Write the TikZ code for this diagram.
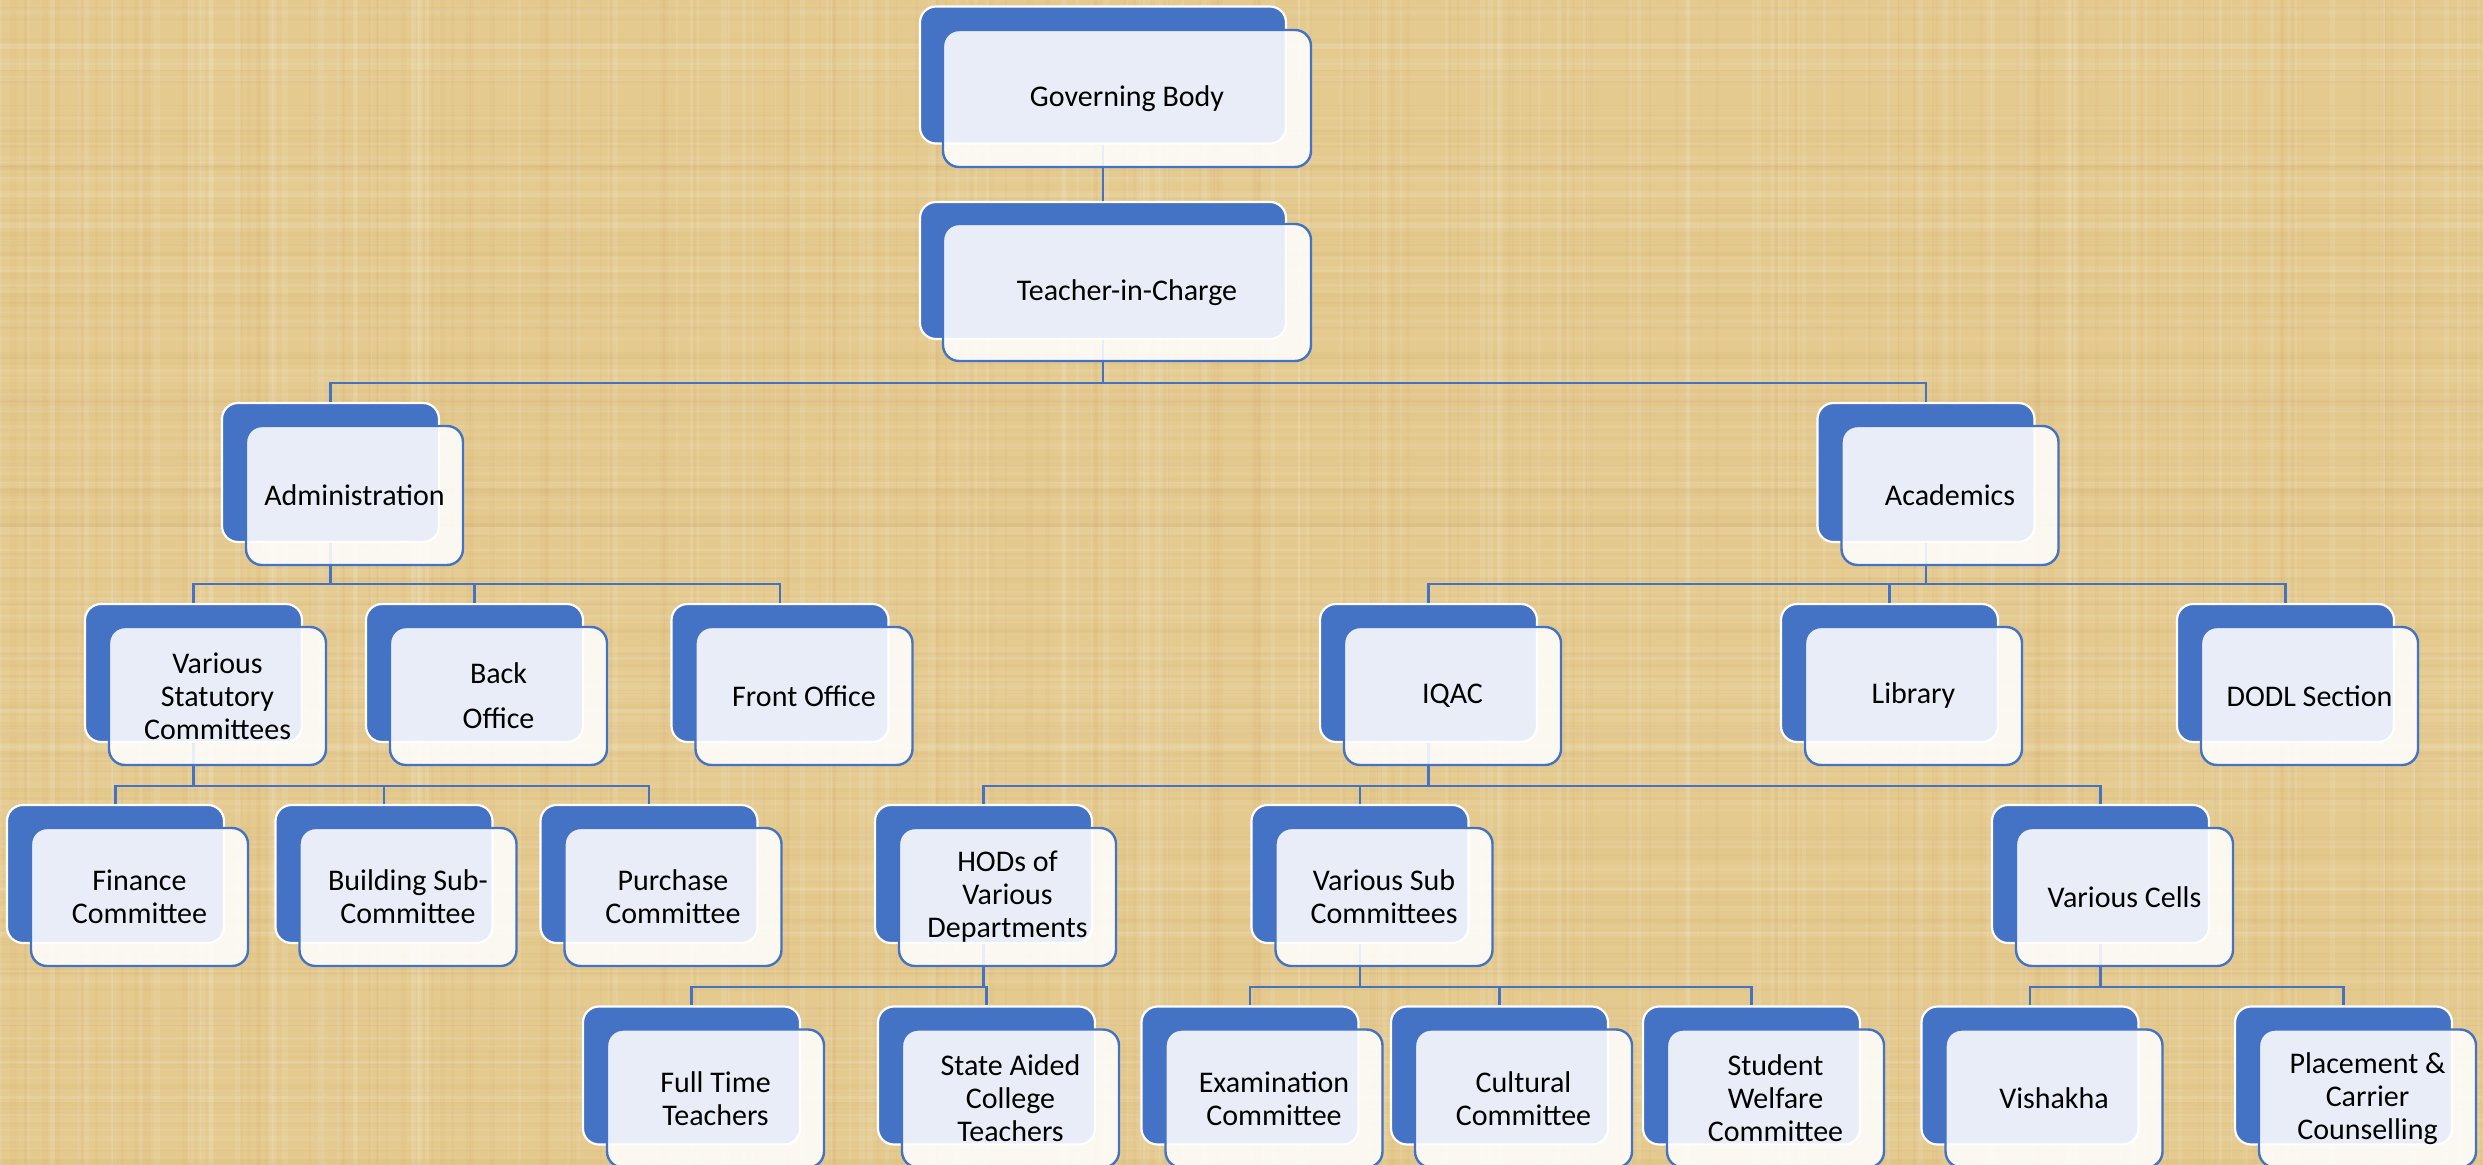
\documentclass[tikz,border=0pt]{standalone}
\usepackage{fontspec}
\setmainfont{Carlito}
\usetikzlibrary{calc}
\definecolor{bgtan}{HTML}{E4CA8E}
\definecolor{orgblue}{HTML}{4472C4}
\pgfdeclarelayer{texture}
\pgfdeclarelayer{backl}
\pgfdeclarelayer{connl}
\pgfsetlayers{texture,backl,connl,main}
\tikzset{
  backbox/.style={rectangle, rounded corners=8pt, fill=orgblue, draw=white, line width=1.1pt, inner sep=0pt},
  frontbox/.style={rectangle, rounded corners=8pt, fill=white, fill opacity=0.88, text opacity=1, draw=orgblue, draw opacity=1, line width=1.2pt, inner sep=0pt, align=center, font=\fontsize{15}{16.5}\selectfont, text=black},
  conn/.style={draw=orgblue, line width=1.3pt}
}
% name, back centre x, back centre y, width, height, text
\newcommand\orgbox[6]{%
  \begin{pgfonlayer}{backl}
  \node[backbox, minimum width=#4*0.5pt, minimum height=#5*0.5pt] (#1b) at (#2,#3) {};
  \end{pgfonlayer}
  \node[frontbox, minimum width=#4*0.5pt, minimum height=#5*0.5pt] (#1) at (#2+24,#3+23) {#6};
}
\begin{document}
\begin{tikzpicture}[x=0.5pt,y=-0.5pt]
\useasboundingbox (0,0) rectangle (2483,1165);
\begin{pgfonlayer}{texture}
\fill[bgtan] (0,0) rectangle (2483,1165);
\begin{scope}
\clip (0,0) rectangle (2483,1165);
\pgfmathsetseed{7}
\foreach \i in {1,...,160}{
  \pgfmathsetmacro\xx{rnd*2483}
  \pgfmathsetmacro\ww{1+rnd*5}
  \fill[white, opacity=0.09] (\xx,0) rectangle (\xx+\ww,1165);
  \pgfmathsetmacro\xa{rnd*2483}
  \fill[brown, opacity=0.05] (\xa,0) rectangle (\xa+\ww,1165);
  \pgfmathsetmacro\yy{rnd*1165}
  \fill[white, opacity=0.07] (0,\yy) rectangle (2483,\yy+\ww);
  \pgfmathsetmacro\ya{rnd*1165}
  \fill[brown, opacity=0.04] (0,\ya) rectangle (2483,\ya+\ww);
}
\end{scope}
\end{pgfonlayer}

% bus coordinates
\coordinate (bus1) at (0,383);
\coordinate (bus2) at (0,584);
\coordinate (bus3) at (0,786);
\coordinate (bus4) at (0,987);

% Level 0 and 1 (wide boxes)
\begin{pgfonlayer}{backl}
\node[backbox, minimum width=366*0.5pt, minimum height=137*0.5pt] (gbb) at (1103,75) {};
\node[backbox, minimum width=366*0.5pt, minimum height=137*0.5pt] (ticb) at (1103,270.5) {};
\end{pgfonlayer}
\node[frontbox, minimum width=368*0.5pt, minimum height=137*0.5pt] (gb) at (1127,98.5) {Governing Body};
\node[frontbox, minimum width=368*0.5pt, minimum height=137*0.5pt] (tic) at (1127,292.5) {Teacher-in-Charge};

% Level 2
\orgbox{adm}{330.5}{472.5}{217}{139}{Administration}
\orgbox{aca}{1926}{472.5}{217}{139}{Academics}
% Level 3
\orgbox{vsc}{193.5}{673}{217}{138}{Various\\Statutory\\Committees}
\orgbox{bo}{474.5}{673}{217}{138}{Back\\[6pt]Office}
\orgbox{fo}{780}{673}{217}{138}{Front Office}
\orgbox{iqac}{1428.5}{673}{217}{138}{IQAC}
\orgbox{lib}{1889.5}{673}{217}{138}{Library}
\orgbox{dodl}{2285.5}{673}{217}{138}{DODL Section}
% Level 4
\orgbox{fin}{115.5}{874}{217}{138}{Finance\\Committee}
\orgbox{bld}{384}{874}{217}{138}{Building Sub-\\Committee}
\orgbox{pur}{649}{874}{217}{138}{Purchase\\Committee}
\orgbox{hod}{983.5}{874}{217}{138}{HODs of\\Various\\Departments}
\orgbox{vsub}{1360}{874}{217}{138}{Various Sub\\Committees}
\orgbox{cell}{2100.5}{874}{217}{138}{Various Cells}
% Level 5
\orgbox{ft}{691.5}{1075.5}{217}{138}{Full Time\\Teachers}
\orgbox{sa}{986.5}{1075.5}{217}{138}{State Aided\\College\\Teachers}
\orgbox{exam}{1250}{1075.5}{217}{138}{Examination\\Committee}
\orgbox{cult}{1499.5}{1075.5}{217}{138}{Cultural\\Committee}
\orgbox{sw}{1751.5}{1075.5}{217}{138}{Student\\Welfare\\Committee}
\orgbox{vis}{2030}{1075.5}{217}{138}{Vishakha}
\orgbox{plc}{2343.5}{1075.5}{217}{138}{Placement \&\\Carrier\\Counselling}

% connectors: above the back boxes, below the translucent front boxes
\begin{pgfonlayer}{connl}
\draw[conn] (gbb.south) -- (ticb.north);
\foreach \c in {admb,acab}
  \draw[conn] (ticb.south) -- (ticb.south |- bus1) -| (\c.north);
\foreach \c in {vscb,bob,fob}
  \draw[conn] (admb.south) -- (admb.south |- bus2) -| (\c.north);
\foreach \c in {iqacb,libb,dodlb}
  \draw[conn] (acab.south) -- (acab.south |- bus2) -| (\c.north);
\foreach \c in {finb,bldb,purb}
  \draw[conn] (vscb.south) -- (vscb.south |- bus3) -| (\c.north);
\foreach \c in {hodb,vsubb,cellb}
  \draw[conn] (iqacb.south) -- (iqacb.south |- bus3) -| (\c.north);
\foreach \c in {ftb,sab}
  \draw[conn] (hodb.south) -- (hodb.south |- bus4) -| (\c.north);
\foreach \c in {examb,cultb,swb}
  \draw[conn] (vsubb.south) -- (vsubb.south |- bus4) -| (\c.north);
\foreach \c in {visb,plcb}
  \draw[conn] (cellb.south) -- (cellb.south |- bus4) -| (\c.north);
\end{pgfonlayer}
\end{tikzpicture}
\end{document}
